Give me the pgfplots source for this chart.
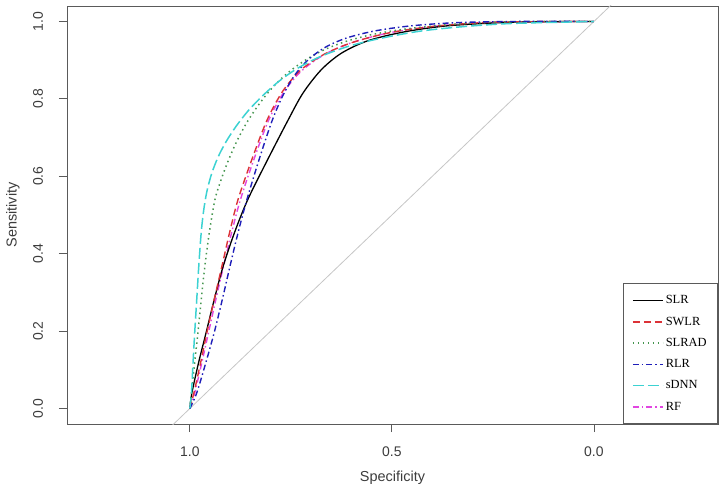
\documentclass[border=0pt]{standalone}
\usepackage{pgfplots}
\pgfplotsset{compat=1.18}
\usepackage{fontspec}
\setmainfont{Liberation Serif}
\newfontfamily\arial{Liberation Sans}

\definecolor{axgray}{RGB}{90,90,90}
\definecolor{labgray}{RGB}{60,60,60}
\definecolor{colSLR}{RGB}{0,0,0}
\definecolor{colSWLR}{RGB}{220,50,55}
\definecolor{colSLRAD}{RGB}{70,150,80}
\definecolor{colRLR}{RGB}{30,30,185}
\definecolor{colSDNN}{RGB}{60,210,210}
\definecolor{colRF}{RGB}{225,70,225}

\begin{document}
\begin{tikzpicture}
\begin{axis}[name=ax, scale only axis, width=651bp, height=418bp,
  x dir=reverse, xmin=-0.307, xmax=1.304, ymin=-0.04, ymax=1.04,
  xtick={0,0.5,1}, xticklabels={0.0,0.5,1.0},
  ytick={0,0.2,0.4,0.6,0.8,1.0}, yticklabels={0.0,0.2,0.4,0.6,0.8,1.0},
  xtick pos=bottom, ytick pos=left,
  tick align=outside, major tick length=8bp,
  tick style={color=axgray, line width=0.8pt},
  axis line style={color=axgray, line width=0.9pt},
  ticklabel style={font=\arial\fontsize{14}{16}\selectfont, text=labgray},
  xticklabel style={anchor=center, yshift=-20bp},
  yticklabel style={xshift=-21bp, rotate=90, anchor=center},
  xlabel={Specificity}, ylabel={Sensitivity},
  label style={font=\arial\fontsize{14.5}{16}\selectfont, text=labgray},
  xlabel style={at={(axis description cs:0.5,-0.1292)}, anchor=center},
  ylabel style={at={(axis description cs:-0.083,0.5)}, anchor=center},
  legend style={at={(rel axis cs:1,0)}, anchor=south east, draw=axgray, line width=0.8pt,
    font=\fontsize{12.5}{14}\selectfont, inner xsep=9bp, inner ysep=10bp,
    row sep=7.6bp, column sep=0bp},
  legend cell align=left,
  legend image code/.code={\draw[#1, line width=1.6pt] (0bp,0bp) -- (30bp,0bp);},
  every axis plot/.append style={smooth, tension=0.5},
]
% chance line
\addplot[gray!45, line width=0.8pt, forget plot, sharp plot] coordinates {(1.1,-0.1) (-0.1,1.1)};
% RF (mostly hidden underneath)
\addplot[draw=colRF, line width=1.4pt, dash pattern=on 6bp off 3bp on 1.5bp off 3bp, forget plot] coordinates {
(1,0) (0.988,0.04) (0.970,0.12) (0.954,0.195) (0.936,0.28) (0.917,0.366) (0.897,0.453) (0.875,0.539)
(0.842,0.642) (0.805,0.745) (0.767,0.818) (0.724,0.872) (0.668,0.914) (0.600,0.945) (0.51,0.970)
(0.40,0.987) (0.25,0.998) (0,1)};
% SLR
\addplot[draw=colSLR, line width=1.3pt] coordinates {
(1,0) (0.995,0.04) (0.978,0.12) (0.960,0.195) (0.940,0.28) (0.918,0.366) (0.890,0.453) (0.857,0.539)
(0.808,0.642) (0.757,0.745) (0.720,0.815) (0.675,0.875) (0.625,0.918) (0.560,0.950) (0.470,0.973)
(0.360,0.989) (0.200,0.998) (0,1)};
\addlegendentry{SLR}
% SWLR
\addplot[draw=colSWLR, line width=1.4pt, dash pattern=on 7bp off 4bp] coordinates {
(1,0) (0.990,0.04) (0.973,0.12) (0.958,0.195) (0.940,0.28) (0.921,0.366) (0.902,0.453) (0.881,0.539)
(0.847,0.642) (0.809,0.745) (0.770,0.820) (0.725,0.875) (0.668,0.915) (0.600,0.945) (0.510,0.970)
(0.400,0.987) (0.250,0.998) (0,1)};
\addlegendentry{SWLR}
% SLRAD
\addplot[draw=colSLRAD, line width=1.5pt, dash pattern=on 1.5bp off 3.5bp] coordinates {
(1,0) (0.996,0.04) (0.988,0.12) (0.980,0.195) (0.972,0.28) (0.963,0.366) (0.952,0.453) (0.938,0.539)
(0.923,0.590) (0.905,0.640) (0.884,0.690) (0.860,0.737) (0.833,0.780) (0.805,0.818) (0.775,0.851)
(0.742,0.880) (0.705,0.906) (0.663,0.929) (0.612,0.949) (0.550,0.966) (0.470,0.980) (0.370,0.991)
(0.250,0.998) (0.120,1.0) (0,1)};
\addlegendentry{SLRAD}
% RLR
\addplot[draw=colRLR, line width=1.4pt, dash pattern=on 6bp off 3bp on 1.5bp off 3bp] coordinates {
(1,0) (0.983,0.04) (0.960,0.12) (0.940,0.195) (0.920,0.28) (0.901,0.366) (0.881,0.453) (0.859,0.539)
(0.829,0.642) (0.797,0.742) (0.770,0.808) (0.740,0.862) (0.705,0.903) (0.662,0.935) (0.610,0.958)
(0.540,0.976) (0.450,0.989) (0.340,0.997) (0.200,1.0) (0,1)};
\addlegendentry{RLR}
% sDNN
\addplot[draw=colSDNN, line width=1.5pt, dash pattern=on 11bp off 4bp] coordinates {
(1,0) (0.996,0.04) (0.992,0.12) (0.988,0.195) (0.983,0.28) (0.978,0.366) (0.972,0.453) (0.966,0.510)
(0.958,0.560) (0.946,0.607) (0.930,0.650) (0.910,0.690) (0.885,0.730) (0.855,0.770) (0.820,0.808)
(0.780,0.845) (0.735,0.878) (0.680,0.908) (0.610,0.935) (0.530,0.956) (0.430,0.975) (0.320,0.987)
(0.200,0.995) (0,1)};
\addlegendentry{sDNN}
\addlegendimage{draw=colRF, dash pattern=on 6bp off 3bp on 1.5bp off 3bp}
\addlegendentry{RF}
\end{axis}
\pgfresetboundingbox
\path ([shift={(-67bp,-67bp)}]ax.south west) rectangle ([shift={(6bp,6bp)}]ax.north east);
\end{tikzpicture}
\end{document}
